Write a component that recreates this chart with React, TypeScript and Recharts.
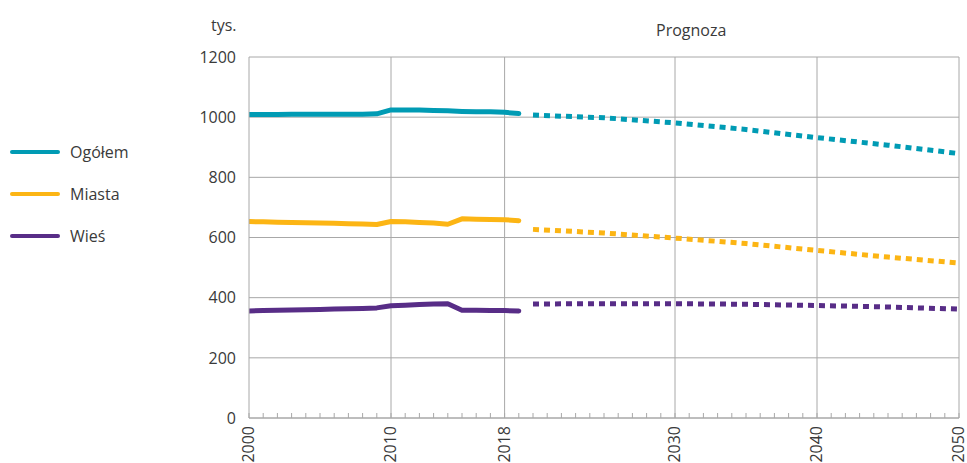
import React from 'react'
import {
  LineChart,
  Line,
  XAxis,
  YAxis,
  CartesianGrid,
  ReferenceLine,
} from 'recharts'

const histYears = [
  2000, 2001, 2002, 2003, 2004, 2005, 2006, 2007, 2008, 2009,
  2010, 2011, 2012, 2013, 2014, 2015, 2016, 2017, 2018, 2019,
]
const histOgolem = [
  1009, 1009, 1009, 1010, 1010, 1010, 1010, 1010, 1010, 1011,
  1024, 1024, 1024, 1022, 1021, 1019, 1018, 1018, 1016, 1012,
]
const histMiasta = [
  653, 652, 651, 650, 649, 648, 647, 646, 645, 643,
  653, 652, 650, 648, 644, 662, 661, 660, 659, 656,
]
const histWies = [
  356, 357, 358, 359, 360, 361, 362, 363, 364, 366,
  373, 375, 377, 379, 380, 358, 358, 357, 357, 356,
]

const forecastYears = [2020, 2025, 2030, 2035, 2040, 2045, 2050]
const forecastOgolem = [1007, 998, 981, 959, 932, 907, 879]
const forecastMiasta = [627, 615, 598, 580, 557, 535, 515]
const forecastWies = [379, 380, 380, 378, 374, 369, 362]

const yTicks = [0, 200, 400, 600, 800, 1000, 1200]
const labelYears = [2000, 2010, 2018, 2030, 2040, 2050]
const gridYears = [2010, 2018, 2030, 2040, 2050]
const minorTickYears = Array.from({ length: 51 }, (_, i) => 2000 + i)

const seriesNames = ['Ogółem', 'Miasta', 'Wieś']
const colors = ['#009bb4', '#fcb514', '#582d87']

const FONT = '"Open Sans", sans-serif'
const TEXT = '#3a3a3a'
const GRID = '#a8a8a8'

const toRows = (years: number[], values: number[]) =>
  years.map((year, i) => ({ year, value: values[i] }))

const history = [histOgolem, histMiasta, histWies].map((v) => toRows(histYears, v))
const forecast = [forecastOgolem, forecastMiasta, forecastWies].map((v) =>
  toRows(forecastYears, v)
)

function YearTick(props: any) {
  const { x, y, payload } = props
  if (!labelYears.includes(payload.value)) return null
  return (
    <text
      x={x}
      y={y}
      dy="0.33em"
      transform={`rotate(-90, ${x}, ${y})`}
      textAnchor="end"
      fontSize={16}
      fontFamily={FONT}
      fill={TEXT}
    >
      {payload.value}
    </text>
  )
}

export default function App() {
  return (
    <div style={{ position: 'absolute', left: 0, top: 0, width: 967, height: 463, overflow: 'hidden', background: '#fff' }}>
      <LineChart
        width={967}
        height={475}
        margin={{ top: 57, right: 8, bottom: 7, left: 189 }}
      >
        <CartesianGrid vertical={false} stroke={GRID} />
        {gridYears.map((yr) => (
          <ReferenceLine key={yr} x={yr} stroke={GRID} />
        ))}
        <XAxis
          dataKey="year"
          type="number"
          domain={[2000, 2050]}
          ticks={minorTickYears}
          interval={0}
          height={50}
          axisLine={{ stroke: GRID }}
          tickLine={{ stroke: GRID }}
          tickSize={-5}
          tickMargin={13}
          tick={<YearTick />}
          allowDataOverflow
        />
        <YAxis
          domain={[0, 1200]}
          ticks={yTicks}
          width={60}
          axisLine={{ stroke: GRID }}
          tickLine={false}
          tickMargin={7}
          tick={{ fontSize: 16, fill: TEXT, fontFamily: FONT }}
        />
        {history.map((rows, i) => (
          <Line
            key={`h-${i}`}
            data={rows}
            dataKey="value"
            type="linear"
            stroke={colors[i]}
            strokeWidth={5}
            strokeLinecap="round"
            strokeLinejoin="round"
            dot={false}
            activeDot={false}
            isAnimationActive={false}
          />
        ))}
        {forecast.map((rows, i) => (
          <Line
            key={`f-${i}`}
            data={rows}
            dataKey="value"
            type="linear"
            stroke={colors[i]}
            strokeWidth={5}
            strokeDasharray="6 5"
            strokeLinecap="butt"
            dot={false}
            activeDot={false}
            isAnimationActive={false}
          />
        ))}
      </LineChart>

      <div style={{ position: 'absolute', left: 211, top: 14, fontFamily: FONT, fontSize: 16, color: TEXT }}>
        tys.
      </div>
      <div style={{ position: 'absolute', left: 656, top: 19, fontFamily: FONT, fontSize: 16, color: TEXT }}>
        Prognoza
      </div>

      {seriesNames.map((name, i) => (
        <div
          key={name}
          style={{
            position: 'absolute',
            left: 10,
            top: [152, 194, 236][i] - 12,
            height: 24,
            display: 'flex',
            alignItems: 'center',
            fontFamily: FONT,
            fontSize: 16,
            color: TEXT,
          }}
        >
          <span
            style={{
              display: 'inline-block',
              width: 50,
              height: 4,
              borderRadius: 2,
              background: colors[i],
              marginRight: 10,
            }}
          />
          {name}
        </div>
      ))}
    </div>
  )
}
